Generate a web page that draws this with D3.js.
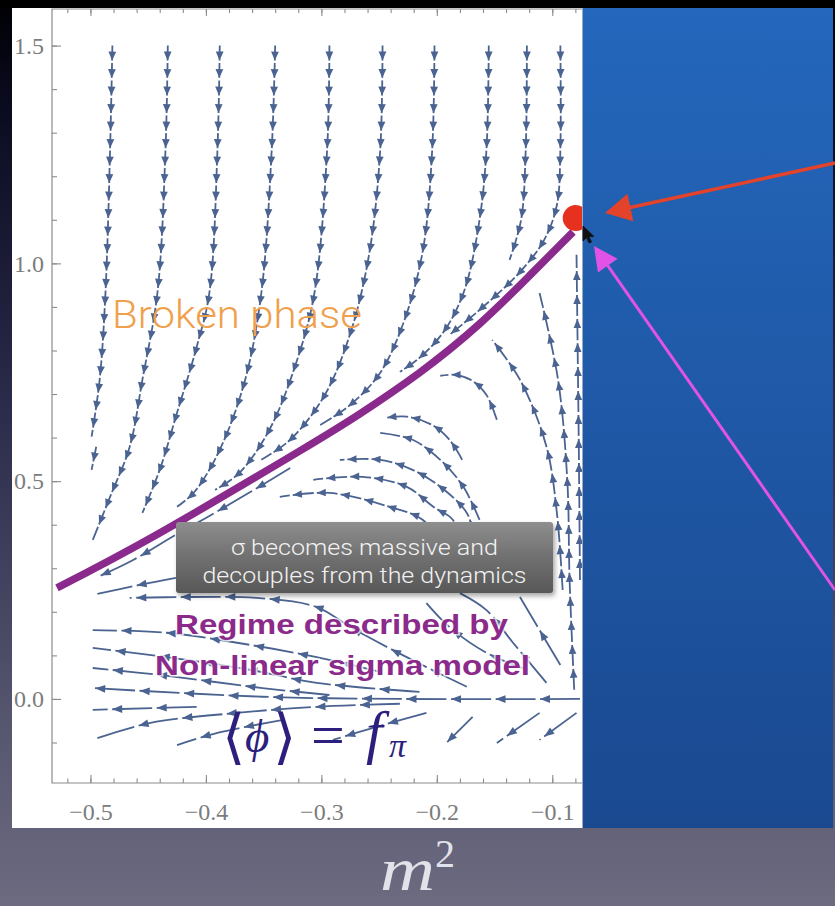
<!DOCTYPE html>
<html>
<head>
<meta charset="utf-8">
<script src="https://cdn.jsdelivr.net/npm/d3@7"></script>
<style>
  html, body { margin: 0; padding: 0; background: #000; }
  svg { display: block; }
</style>
</head>
<body>
<svg id="chart" width="835" height="906"></svg>
<script>
// ---- values: m^2 on x, <phi> on y ----
var xMajor = [-0.5, -0.4, -0.3, -0.2, -0.1];
var yMajor = [0.0, 0.5, 1.0, 1.5];

// streamlines coming down from the top (broken phase side)
var fallingLines = [
  [[-0.481,1.5],[-0.483,1.261],[-0.487,0.932],[-0.492,0.733],[-0.499,0.602]],
  [[-0.495,0.579],[-0.499,0.526]],
  [[-0.433,1.5],[-0.435,1.261],[-0.442,0.932],[-0.455,0.733],[-0.466,0.579],[-0.483,0.464],[-0.498,0.365]],
  [[-0.388,1.5],[-0.390,1.261],[-0.397,0.932],[-0.408,0.808],[-0.425,0.657],[-0.440,0.526],[-0.455,0.427]],
  [[-0.340,1.5],[-0.343,1.261],[-0.352,0.932],[-0.366,0.733],[-0.388,0.572],[-0.410,0.475],[-0.425,0.441]],
  [[-0.293,1.5],[-0.295,1.261],[-0.306,0.932],[-0.321,0.778],[-0.345,0.618],[-0.371,0.519],[-0.392,0.480]],
  [[-0.247,1.5],[-0.249,1.261],[-0.258,1.031],[-0.274,0.847],[-0.297,0.698],[-0.327,0.595],[-0.352,0.549]],
  [[-0.202,1.5],[-0.204,1.261],[-0.212,1.031],[-0.228,0.870],[-0.249,0.749],[-0.275,0.675],[-0.301,0.629]],
  [[-0.155,1.5],[-0.157,1.261],[-0.163,1.100],[-0.176,0.939],[-0.193,0.847],[-0.215,0.783],[-0.232,0.751]],
  [[-0.122,1.5],[-0.123,1.261],[-0.127,1.100],[-0.137,1.008]],
  [[-0.093,1.5],[-0.093,1.261],[-0.096,1.134],[-0.107,1.054],[-0.128,0.980],[-0.160,0.900],[-0.189,0.836]]
];

// streamlines in the lobe under the separatrix (flow goes up then left)
var lobeLines = [
  [[-0.076,0.273],[-0.077,0.572],[-0.078,0.801],[-0.079,1.020]],
  [[-0.081,0.021],[-0.085,0.273],[-0.087,0.503],[-0.095,0.733],[-0.111,0.932]],
  [[-0.091,0.250],[-0.096,0.427],[-0.105,0.579],[-0.128,0.733],[-0.152,0.824]],
  [[-0.148,0.641],[-0.157,0.698],[-0.169,0.730],[-0.184,0.744],[-0.197,0.742]],
  [[-0.178,0.549],[-0.189,0.595],[-0.204,0.629],[-0.226,0.648],[-0.245,0.645]],
  [[-0.163,0.411],[-0.177,0.487],[-0.197,0.549],[-0.221,0.595],[-0.249,0.611]],
  [[-0.167,0.365],[-0.174,0.427],[-0.197,0.487],[-0.221,0.526],[-0.249,0.549],[-0.284,0.549]],
  [[-0.180,0.354],[-0.186,0.411],[-0.203,0.441],[-0.226,0.487],[-0.264,0.510],[-0.307,0.503]],
  [[-0.197,0.354],[-0.212,0.411],[-0.241,0.441],[-0.293,0.473],[-0.336,0.464]]
];

// streamlines running left, towards the non-linear sigma model regime
var leftLines = [
  [[-0.327,0.530],[-0.366,0.468],[-0.397,0.420],[-0.426,0.377],[-0.463,0.319],[-0.492,0.282]],
  [[-0.426,0.278],[-0.457,0.262],[-0.494,0.241]],
  [[-0.076,0.0],[-0.232,0.0],[-0.351,0.005],[-0.498,0.025]],
  [[-0.174,0.028],[-0.209,0.073],[-0.243,0.119],[-0.275,0.165],[-0.304,0.211],[-0.356,0.232],[-0.414,0.234],[-0.466,0.232]],
  [[-0.105,0.037],[-0.134,0.129],[-0.157,0.204],[-0.180,0.243]],
  [[-0.122,0.067],[-0.157,0.106],[-0.189,0.165],[-0.209,0.220]],
  [[-0.093,0.078],[-0.111,0.158],[-0.128,0.234]],
  [[-0.249,0.062],[-0.304,0.096],[-0.373,0.129],[-0.434,0.152],[-0.498,0.158]],
  [[-0.215,0.016],[-0.304,0.037],[-0.362,0.067],[-0.434,0.096],[-0.498,0.117]],
  [[-0.293,0.009],[-0.351,0.025],[-0.440,0.055],[-0.498,0.071]],
  [[-0.408,-0.018],[-0.498,-0.025]],
  [[-0.232,-0.011],[-0.304,-0.018],[-0.373,-0.032],[-0.448,-0.055],[-0.494,-0.090]],
  [[-0.333,-0.048],[-0.390,-0.078],[-0.425,-0.106]],
  [[-0.209,-0.032],[-0.252,-0.064],[-0.290,-0.094]],
  [[-0.169,-0.041],[-0.191,-0.099]],
  [[-0.111,-0.032],[-0.148,-0.101]],
  [[-0.079,-0.032],[-0.111,-0.094]]
];

// separatrix (purple) and the fixed point it ends on
var separatrix = [[-0.529,0.255],[-0.440,0.381],[-0.319,0.569],[-0.267,0.654],[-0.215,0.749],[-0.163,0.861],[-0.120,0.971],[-0.082,1.072]];
var fixedPoint = [-0.0797, 1.104];

// ---- layout ----
var W = 835, H = 906;
var panel = {x: 12, y: 8, w: 570, h: 820};
var frame = {left: 52, right: 610, top: 9, bottom: 783};
var streamColor = "#4b6391";

var svg = d3.select("#chart");
var defs = svg.append("defs");

var x = d3.scaleLinear().domain([-0.5333, -0.05]).range([frame.left, frame.right]);
var y = d3.scaleLinear().domain([-0.193, 1.584]).range([frame.bottom, frame.top]);

function addGradient(id, stops) {
  var g = defs.append("linearGradient").attr("id", id)
    .attr("x1", 0).attr("y1", 0).attr("x2", 0).attr("y2", 1);
  stops.forEach(function(s) {
    g.append("stop").attr("offset", s[0]).attr("stop-color", s[1]);
  });
}
addGradient("bg", [[0, "#000004"], [0.12, "#0b0b20"], [0.45, "#2b2b4b"], [0.8, "#56566f"], [1, "#6c6b80"]]);
addGradient("blue", [[0, "#2467bc"], [1, "#1a4990"]]);
addGradient("box", [[0, "#8e8e8e"], [0.5, "#707070"], [1, "#585858"]]);

defs.append("filter").attr("id", "shadow")
  .append("feGaussianBlur").attr("stdDeviation", 2.5);

defs.append("clipPath").attr("id", "plotclip")
  .append("rect").attr("x", frame.left).attr("y", frame.top)
  .attr("width", panel.x + panel.w - frame.left).attr("height", frame.bottom - frame.top);

// slide background
svg.append("rect").attr("width", W).attr("height", H).attr("fill", "url(#bg)");
svg.append("rect").attr("width", W).attr("height", panel.y).attr("fill", "#000");
svg.append("rect").attr("x", panel.x).attr("y", panel.y)
  .attr("width", panel.w).attr("height", panel.h).attr("fill", "#fff");

// ---- axes and frame ----
var axisColor = "#8c8c8c";
function styleAxis(g) {
  g.select(".domain").remove();
  g.selectAll(".tick line").attr("stroke", axisColor).attr("stroke-width", 1.1);
  g.selectAll(".tick text")
    .attr("fill", "#7c7c7c")
    .style("font-family", "'Liberation Serif', 'DejaVu Serif', serif")
    .style("font-size", "24px");
}
var fmt = d3.format(".1f");
var minorX = d3.range(-0.52, -0.049, 0.02);
var minorY = d3.range(-0.1, 1.59, 0.1);

var axes = svg.append("g");
axes.append("g").attr("transform", "translate(0," + frame.bottom + ")")
  .call(d3.axisBottom(x).tickValues(minorX).tickSize(-4.5).tickFormat(""))
  .call(styleAxis);
axes.append("g").attr("transform", "translate(0," + frame.bottom + ")")
  .call(d3.axisBottom(x).tickValues(xMajor).tickSize(-8).tickPadding(20).tickFormat(fmt))
  .call(styleAxis);
axes.append("g").attr("transform", "translate(0," + frame.top + ")")
  .call(d3.axisTop(x).tickValues(minorX).tickSize(-4).tickFormat(""))
  .call(styleAxis);
axes.append("g").attr("transform", "translate(0," + frame.top + ")")
  .call(d3.axisTop(x).tickValues(xMajor).tickSize(-7).tickFormat(""))
  .call(styleAxis);
axes.append("g").attr("transform", "translate(" + frame.left + ",0)")
  .call(d3.axisLeft(y).tickValues(minorY).tickSize(-5).tickFormat(""))
  .call(styleAxis);
axes.append("g").attr("transform", "translate(" + frame.left + ",0)")
  .call(d3.axisLeft(y).tickValues(yMajor).tickSize(-9).tickPadding(8).tickFormat(fmt))
  .call(styleAxis);

axes.append("path")
  .attr("d", "M" + frame.right + "," + frame.top + "H" + frame.left + "V" + frame.bottom + "H" + frame.right)
  .attr("fill", "none").attr("stroke", axisColor).attr("stroke-width", 1.2);

// ---- streamlines with arrowheads ----
var plot = svg.append("g").attr("clip-path", "url(#plotclip)");
var streams = plot.append("g");
var curve = d3.line()
  .x(function(d) { return x(d[0]); })
  .y(function(d) { return y(d[1]); })
  .curve(d3.curveCatmullRom.alpha(0.5));

function drawStreams(lines, dash, gap, headLen, headHalf) {
  lines.forEach(function(pts) {
    var p = streams.append("path")
      .attr("d", curve(pts))
      .attr("fill", "none")
      .attr("stroke", streamColor)
      .attr("stroke-width", 1.8);
    var node = p.node();
    var L = node.getTotalLength();
    p.attr("stroke-dasharray", dash + " " + gap);
    for (var s = Math.min(dash, L); s <= L + 0.01; s += dash + gap) {
      var a = node.getPointAtLength(s);
      var b = node.getPointAtLength(Math.max(0, s - 2));
      var ang = Math.atan2(a.y - b.y, a.x - b.x);
      var c = Math.cos(ang), sn = Math.sin(ang);
      var bx = a.x - headLen * c, by = a.y - headLen * sn;
      streams.append("polygon")
        .attr("points", [
          [a.x, a.y],
          [bx - headHalf * sn, by + headHalf * c],
          [bx + headHalf * sn, by - headHalf * c]
        ].map(function(q) { return q[0].toFixed(1) + "," + q[1].toFixed(1); }).join(" "))
        .attr("fill", streamColor);
    }
  });
}
drawStreams(fallingLines, 15, 2.5, 9, 3.9);
drawStreams(lobeLines, 21, 3, 9, 3.8);
drawStreams(leftLines, 40, 4.5, 10, 3.9);

// separatrix and fixed point
var smooth = d3.line()
  .x(function(d) { return x(d[0]); })
  .y(function(d) { return y(d[1]); })
  .curve(d3.curveNatural);
plot.append("path")
  .attr("d", smooth(separatrix))
  .attr("fill", "none")
  .attr("stroke", "#8a2a8d")
  .attr("stroke-width", 7.5);
plot.append("circle")
  .attr("cx", x(fixedPoint[0])).attr("cy", y(fixedPoint[1]))
  .attr("r", 13).attr("fill", "#e6311e");

// ---- labels on the plot ----
svg.append("text")
  .attr("x", 112).attr("y", 328)
  .attr("textLength", 250).attr("lengthAdjust", "spacingAndGlyphs")
  .style("font-family", "Roboto, 'Liberation Sans', sans-serif")
  .style("font-weight", 300)
  .style("font-size", "39px")
  .attr("fill", "#f0a04c")
  .text("Broken phase");

var box = {x: 176, y: 522, w: 377, h: 71};
svg.append("rect")
  .attr("x", box.x + 2).attr("y", box.y + 3).attr("width", box.w).attr("height", box.h)
  .attr("rx", 3).attr("fill", "rgba(0,0,0,0.35)").attr("filter", "url(#shadow)");
svg.append("rect")
  .attr("x", box.x).attr("y", box.y).attr("width", box.w).attr("height", box.h)
  .attr("rx", 3).attr("fill", "url(#box)");
[["σ becomes massive and", 555, 267], ["decouples from the dynamics", 583, 324]].forEach(function(t) {
  svg.append("text")
    .attr("x", box.x + box.w / 2).attr("y", t[1])
    .attr("text-anchor", "middle")
    .attr("textLength", t[2]).attr("lengthAdjust", "spacingAndGlyphs")
    .style("font-family", "Roboto, 'Liberation Sans', sans-serif")
    .style("font-weight", 300)
    .style("font-size", "22px")
    .attr("fill", "#f2f2f2")
    .text(t[0]);
});

[["Regime described by", 175, 634, 333], ["Non-linear sigma model", 155, 675, 375]].forEach(function(t) {
  svg.append("text")
    .attr("x", t[1]).attr("y", t[2])
    .attr("textLength", t[3]).attr("lengthAdjust", "spacingAndGlyphs")
    .style("font-family", "'Liberation Sans', Arial, sans-serif")
    .style("font-weight", "bold")
    .style("font-size", "27px")
    .style("paint-order", "stroke")
    .attr("stroke", "rgba(255,255,255,0.75)")
    .attr("stroke-width", 3)
    .attr("fill", "#8b2a8b")
    .text(t[0]);
});

// <phi> = f_pi, set as one text with positioned pieces
var math = svg.append("text")
  .attr("fill", "#2c1f7d")
  .style("font-family", "'Liberation Serif', serif");
function mathPiece(str, px, py, size, opts) {
  var t = math.append("tspan").attr("x", px).attr("y", py)
    .style("font-size", size + "px")
    .text(str);
  if (opts.family) t.style("font-family", opts.family);
  if (opts.italic) t.style("font-style", "italic");
  if (opts.weight) t.style("font-weight", opts.weight);
  return t;
}
mathPiece("⟨", 222, 757, 60, {family: "'DejaVu Sans', sans-serif", weight: 200});
mathPiece("ϕ", 245, 752, 47, {italic: true});
mathPiece("⟩", 273, 757, 60, {family: "'DejaVu Sans', sans-serif", weight: 200});
mathPiece("=", 311, 755, 60, {});
mathPiece("f", 366, 752, 60, {italic: true});
mathPiece("π", 389, 757, 34, {italic: true});

// x axis title below the panel
svg.append("text").attr("x", 380).attr("y", 890)
  .attr("textLength", 55).attr("lengthAdjust", "spacingAndGlyphs")
  .style("font-family", "'Liberation Serif', serif").style("font-style", "italic")
  .style("font-size", "62px").attr("fill", "#e2e2ea").text("m");
svg.append("text").attr("x", 435).attr("y", 867)
  .style("font-family", "'Liberation Serif', serif")
  .style("font-size", "40px").attr("fill", "#e2e2ea").text("2");

// ---- blue panel covering the right of the plot ----
svg.append("rect").attr("x", panel.x + panel.w).attr("y", panel.y)
  .attr("width", W - 2 - panel.x - panel.w).attr("height", panel.h)
  .attr("fill", "url(#blue)");
svg.append("line").attr("x1", panel.x + panel.w + 0.5).attr("x2", panel.x + panel.w + 0.5)
  .attr("y1", panel.y).attr("y2", panel.y + panel.h)
  .attr("stroke", "#9aa9c4").attr("stroke-width", 1);

// hand-drawn pointers at the fixed point
var pointers = [
  {from: [835, 163], to: [605, 213], color: "#e2432a", width: 3.5, len: 26, half: 14},
  {from: [835, 590], to: [594, 246], color: "#e053e6", width: 3, len: 24, half: 12}
];
pointers.forEach(function(p) {
  var ang = Math.atan2(p.to[1] - p.from[1], p.to[0] - p.from[0]);
  var c = Math.cos(ang), s = Math.sin(ang);
  var bx = p.to[0] - p.len * c, by = p.to[1] - p.len * s;
  svg.append("line")
    .attr("x1", p.from[0]).attr("y1", p.from[1]).attr("x2", bx + 4 * c).attr("y2", by + 4 * s)
    .attr("stroke", p.color).attr("stroke-width", p.width);
  svg.append("polygon")
    .attr("points", [[p.to[0], p.to[1]], [bx - p.half * s, by + p.half * c], [bx + p.half * s, by - p.half * c]].join(" "))
    .attr("fill", p.color);
});

// mouse cursor
svg.append("path")
  .attr("transform", "translate(583,226)")
  .attr("d", "M0,0 L0,15 L3.5,11.5 L6,17 L8.5,16 L6,10.5 L11,10.5 Z")
  .attr("fill", "#111").attr("stroke", "#111").attr("stroke-width", 0.8);
</script>
</body>
</html>
